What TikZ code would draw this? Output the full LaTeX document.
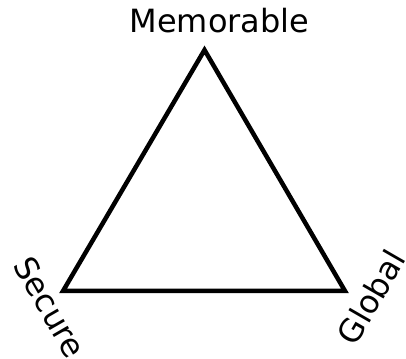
\documentclass[tikz,border=0pt]{standalone}
\usepackage{fontspec}
\setmainfont{DejaVu Sans}
\begin{document}
\begin{tikzpicture}[x=1pt,y=1pt,
  lbl/.style={font=\fontsize{32}{36}\selectfont, inner sep=0pt}]
\useasboundingbox (0,0) rectangle (406,358);
\coordinate (T) at (204.5,308);
\coordinate (L) at (63,67);
\coordinate (R) at (345,67);
\draw[line width=4.5, line join=miter] (T) -- (L) -- (R) -- cycle;
\node[lbl, anchor=base] (mem) at (219.5,325) {Memorable};
\node[lbl, rotate=-60] (sec) at (50,51) {Secure};
\node[lbl, rotate=60] (glo) at (371,61) {Global};
\end{tikzpicture}
\end{document}
